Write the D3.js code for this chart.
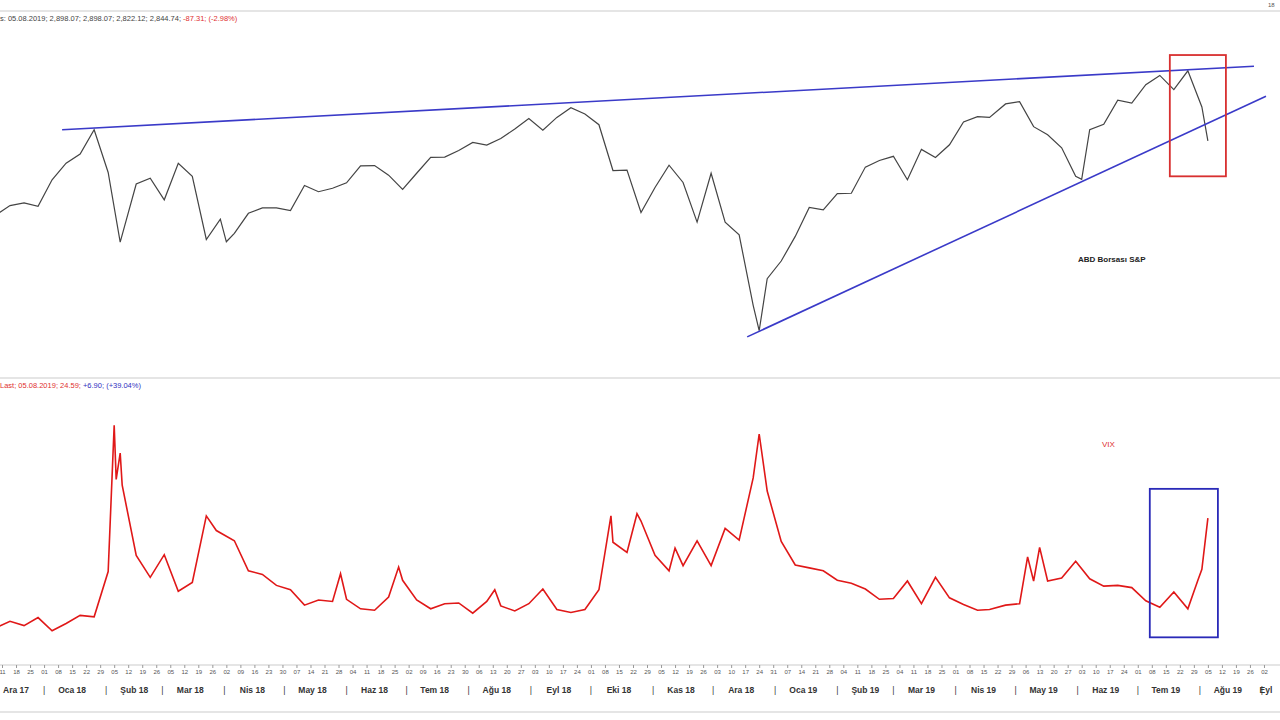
<!DOCTYPE html>
<html><head><meta charset="utf-8">
<script src="https://cdn.jsdelivr.net/npm/d3@7"></script>
<style>body{margin:0;background:#fff}svg{font-family:"Liberation Sans",Arial,sans-serif}</style>
</head><body><svg id="c" width="1280" height="720"></svg>
<script>
const spxDates = ["2017-12-01","2017-12-08","2017-12-15","2017-12-22","2017-12-29","2018-01-05","2018-01-12","2018-01-19","2018-01-26","2018-02-02","2018-02-08","2018-02-16","2018-02-23","2018-03-02","2018-03-09","2018-03-16","2018-03-23","2018-03-30","2018-04-02","2018-04-06","2018-04-13","2018-04-20","2018-04-27","2018-05-04","2018-05-11","2018-05-18","2018-05-25","2018-06-01","2018-06-08","2018-06-15","2018-06-22","2018-06-29","2018-07-06","2018-07-13","2018-07-20","2018-07-27","2018-08-03","2018-08-10","2018-08-17","2018-08-24","2018-08-31","2018-09-07","2018-09-14","2018-09-21","2018-09-28","2018-10-05","2018-10-12","2018-10-19","2018-10-26","2018-11-02","2018-11-09","2018-11-16","2018-11-23","2018-11-30","2018-12-07","2018-12-14","2018-12-21","2018-12-24","2018-12-28","2019-01-04","2019-01-11","2019-01-18","2019-01-25","2019-02-01","2019-02-08","2019-02-15","2019-02-22","2019-03-01","2019-03-08","2019-03-15","2019-03-22","2019-03-29","2019-04-05","2019-04-12","2019-04-18","2019-04-26","2019-05-03","2019-05-10","2019-05-17","2019-05-24","2019-05-31","2019-06-03","2019-06-07","2019-06-14","2019-06-21","2019-06-28","2019-07-05","2019-07-12","2019-07-19","2019-07-26","2019-08-02","2019-08-05"];
const spxClose = [2642,2652,2676,2683,2674,2743,2786,2810,2873,2762,2581,2732,2747,2691,2786,2752,2588,2641,2582,2604,2656,2670,2670,2663,2728,2712,2721,2735,2779,2780,2755,2718,2760,2801,2802,2819,2840,2833,2850,2875,2902,2872,2905,2930,2914,2886,2767,2768,2658,2723,2781,2736,2633,2760,2633,2600,2417,2351,2486,2532,2596,2671,2665,2707,2708,2776,2793,2804,2743,2822,2801,2834,2893,2907,2905,2940,2946,2881,2860,2826,2752,2744,2873,2887,2950,2942,2990,3014,2977,3026,2932,2844];

const vixDates = ["2017-12-01","2017-12-08","2017-12-15","2017-12-22","2017-12-29","2018-01-05","2018-01-12","2018-01-19","2018-01-26","2018-02-02","2018-02-05","2018-02-06","2018-02-08","2018-02-09","2018-02-16","2018-02-23","2018-03-02","2018-03-09","2018-03-16","2018-03-23","2018-03-28","2018-04-06","2018-04-13","2018-04-20","2018-04-27","2018-05-04","2018-05-11","2018-05-18","2018-05-25","2018-05-29","2018-06-01","2018-06-08","2018-06-15","2018-06-22","2018-06-27","2018-06-29","2018-07-06","2018-07-13","2018-07-20","2018-07-27","2018-08-03","2018-08-10","2018-08-14","2018-08-17","2018-08-24","2018-08-31","2018-09-07","2018-09-14","2018-09-21","2018-09-28","2018-10-05","2018-10-11","2018-10-12","2018-10-19","2018-10-24","2018-10-26","2018-11-02","2018-11-09","2018-11-12","2018-11-16","2018-11-23","2018-11-30","2018-12-07","2018-12-14","2018-12-21","2018-12-24","2018-12-28","2019-01-04","2019-01-11","2019-01-18","2019-01-25","2019-02-01","2019-02-08","2019-02-15","2019-02-22","2019-03-01","2019-03-08","2019-03-15","2019-03-22","2019-03-29","2019-04-05","2019-04-12","2019-04-18","2019-04-26","2019-05-03","2019-05-07","2019-05-10","2019-05-13","2019-05-17","2019-05-24","2019-05-31","2019-06-07","2019-06-14","2019-06-21","2019-06-28","2019-07-05","2019-07-12","2019-07-19","2019-07-26","2019-07-31","2019-08-02","2019-08-05"];
const vixClose = [11.4,9.6,10.5,9.9,11.0,9.2,10.2,11.3,11.1,17.3,37.3,29.9,33.5,29.1,19.5,16.5,19.6,14.6,15.8,24.9,22.9,21.5,17.4,16.9,15.4,14.8,12.7,13.4,13.2,17.0,13.5,12.2,12.0,13.8,17.9,16.1,13.4,12.2,12.9,13.0,11.6,13.2,14.8,12.6,11.9,12.9,14.9,12.1,11.7,12.1,14.8,24.9,21.3,19.9,25.2,24.2,19.5,17.4,20.5,18.1,21.5,18.1,23.2,21.6,30.1,36.1,28.3,21.4,18.2,17.8,17.4,16.1,15.7,14.9,13.5,13.6,16.0,12.9,16.5,13.7,12.8,12.0,12.1,12.7,12.9,19.3,16.0,20.6,16.0,16.4,18.7,16.3,15.3,15.4,15.1,13.3,12.4,14.5,12.2,16.1,17.6,24.6];

const upperTrendDates = ["2018-01-10","2019-08-28"], upperTrendVals = [2873,3038];
const lowerTrendDates = ["2018-12-18","2019-09-03"], lowerTrendVals = [2335,2960];
const spxBoxDates = ["2019-07-17","2019-08-14"], spxBoxVals = [3067,2752];
const vixBoxDates = ["2019-07-07","2019-08-10"], vixBoxVals = [28.6,8.3];
const monthLabels = ["Ara 17","Oca 18","Şub 18","Mar 18","Nis 18","May 18","Haz 18","Tem 18","Ağu 18","Eyl 18","Eki 18","Kas 18","Ara 18","Oca 19","Şub 19","Mar 19","Nis 19","May 19","Haz 19","Tem 19","Ağu 19","Eyl"];

const P = d3.timeParse("%Y-%m-%d");
const svg = d3.select("#c");
const x = d3.scaleTime().domain([P("2017-12-10"), P("2019-09-10")]).range([0, 1280]);
const y1 = d3.scaleLinear().domain([2249, 3158]).range([370, 20]);
const y2 = d3.scaleLinear().domain([5.2, 42.8]).range([660, 385]);

// frame lines
[11, 378, 665, 712].forEach(v => svg.append("line").attr("x1",0).attr("x2",1280).attr("y1",v).attr("y2",v).attr("stroke","#ddd").attr("stroke-width",1.5));
svg.append("text").attr("x",1268).attr("y",7).attr("font-size",6).attr("fill","#555").text("18");

// header texts
const h1 = svg.append("text").attr("x",0).attr("y",21).attr("font-size",7.5);
h1.append("tspan").attr("fill","#444").text("s: 05.08.2019; 2,898.07; 2,898.07; 2,822.12; 2,844.74; ");
h1.append("tspan").attr("fill","#e03030").text("-87.31; (-2.98%)");
const h2 = svg.append("text").attr("x",0).attr("y",388).attr("font-size",7.5);
h2.append("tspan").attr("fill","#e03030").text("Last; 05.08.2019; 24.59; ");
h2.append("tspan").attr("fill","#3030c0").text("+6.90; (+39.04%)");

// S&P
const spx = spxDates.map((d,i)=>({d:P(d),v:spxClose[i]}));
svg.append("path").datum(spx).attr("fill","none").attr("stroke","#444").attr("stroke-width",1.2)
  .attr("d", d3.line().x(d=>x(d.d)).y(d=>y1(d.v)));
svg.append("text").attr("x",1078).attr("y",262).attr("font-size",8).attr("font-weight","bold").attr("fill","#222").text("ABD Borsası S&P");

// trend lines
[[upperTrendDates,upperTrendVals],[lowerTrendDates,lowerTrendVals]].forEach(([ds,vs]) =>
  svg.append("line").attr("x1",x(P(ds[0]))).attr("x2",x(P(ds[1]))).attr("y1",y1(vs[0])).attr("y2",y1(vs[1]))
    .attr("stroke","#3a3ac8").attr("stroke-width",1.6));
svg.append("rect").attr("x",x(P(spxBoxDates[0]))).attr("y",y1(spxBoxVals[0]))
  .attr("width",x(P(spxBoxDates[1]))-x(P(spxBoxDates[0]))).attr("height",y1(spxBoxVals[1])-y1(spxBoxVals[0]))
  .attr("fill","none").attr("stroke","#d83030").attr("stroke-width",1.8);

// VIX
const vix = vixDates.map((d,i)=>({d:P(d),v:vixClose[i]}));
svg.append("path").datum(vix).attr("fill","none").attr("stroke","#e01818").attr("stroke-width",1.6)
  .attr("d", d3.line().x(d=>x(d.d)).y(d=>y2(d.v)));
svg.append("text").attr("x",1102).attr("y",447).attr("font-size",8).attr("fill","#e03030").text("VIX");
svg.append("rect").attr("x",x(P(vixBoxDates[0]))).attr("y",y2(vixBoxVals[0]))
  .attr("width",x(P(vixBoxDates[1]))-x(P(vixBoxDates[0]))).attr("height",y2(vixBoxVals[1])-y2(vixBoxVals[0]))
  .attr("fill","none").attr("stroke","#2a2ab8").attr("stroke-width",1.8);

// axis: weekly day ticks, then month names between separators
const weekTicks = d3.timeMonday.range(P("2017-12-11"), P("2019-09-07"));
const ax = svg.append("g").attr("transform","translate(0,665)")
  .call(d3.axisBottom(x).tickValues(weekTicks).tickFormat(d3.timeFormat("%d")).tickSize(3));
ax.select(".domain").remove();
ax.selectAll("line").attr("stroke","#999");
ax.selectAll("text").attr("font-size",6).attr("fill","#555").attr("dy","0.5em");
const months = d3.timeMonth.range(P("2017-12-01"), P("2019-10-01"));
months.forEach((m,i) => {
  const mid = new Date(m.getFullYear(), m.getMonth(), 15);
  const lx = i === 0 ? Math.max(x(mid), 16) : Math.min(x(mid), 1266);
  svg.append("text").attr("x",lx).attr("y",693).attr("text-anchor","middle").attr("font-size",8.5)
    .attr("font-weight","bold").attr("fill","#333").text(monthLabels[i]);
  if (i>0) svg.append("text").attr("x",x(m)).attr("y",693).attr("text-anchor","middle").attr("font-size",8.5).attr("fill","#333").text("|");
});
</script></body></html>
